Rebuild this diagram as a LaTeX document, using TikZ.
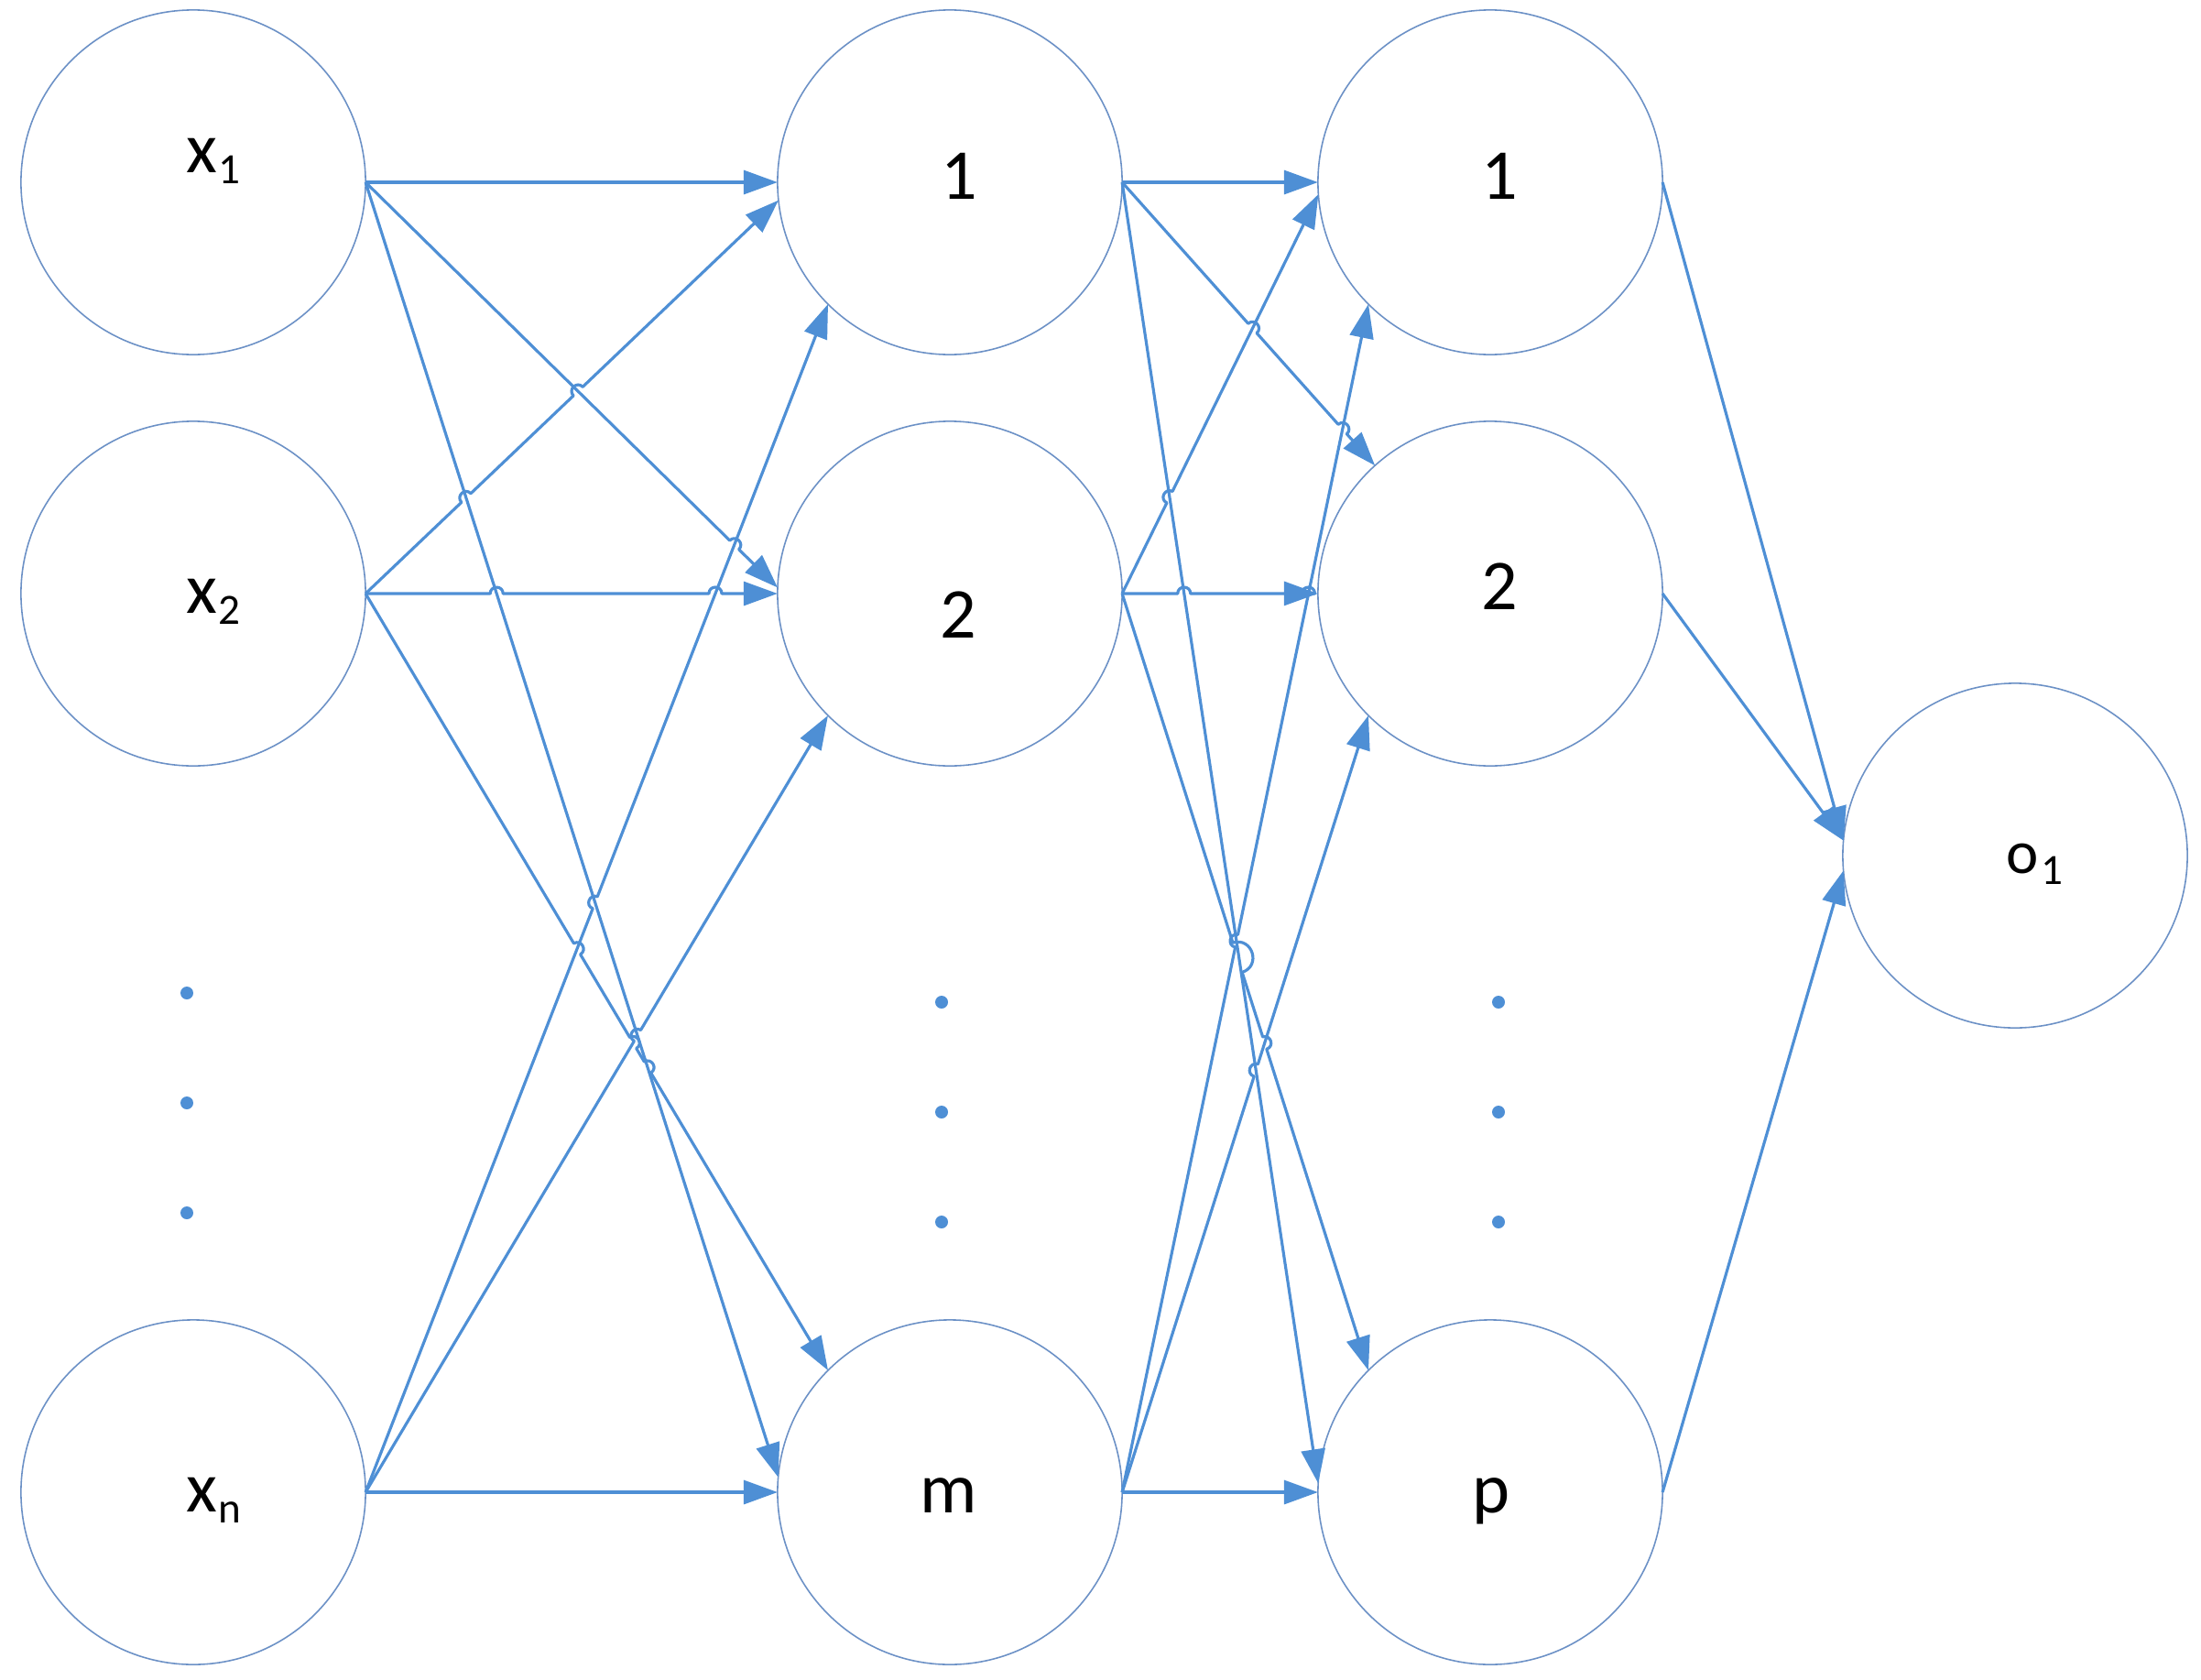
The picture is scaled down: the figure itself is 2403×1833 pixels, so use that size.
\documentclass[tikz,border=0pt]{standalone}
\usepackage{fontspec}
\setmainfont{Carlito}
\usetikzlibrary{arrows.meta,calc}
\definecolor{lineblue}{RGB}{78,143,213}
\definecolor{ringblue}{RGB}{108,145,198}
\tikzset{
  neuron/.style={circle, draw=ringblue, line width=0.45pt, fill=white, minimum size=3.76cm, inner sep=0pt, outer sep=0pt},
  conn/.style={draw=lineblue, line width=0.9pt, line join=round, -{Triangle[length=0.37cm,width=0.26cm]}},
  hopb/.style={bend left=90, looseness=1.7},
  lbl/.style={inner sep=0pt, outer sep=0pt, font=\fontsize{22.2}{24}\selectfont},
  dotmark/.style={fill=lineblue, draw=none}
}
\newcommand{\subx}[2]{{\fontsize{22.2}{24}\selectfont #1}\kern0.4pt\raisebox{-0.12cm}{\fontsize{13.4}{14}\selectfont #2}}
\def\hr{0.07cm}
\begin{document}
\begin{tikzpicture}[x=0.01cm, y=-0.01cm]
\path[use as bounding box] (0,0) rectangle (2403,1833);
% neurons
\node[neuron] (x1) at (211,199) {};
\node[neuron] (x2) at (211,648) {};
\node[neuron] (xn) at (211,1629) {};
\node[neuron] (h1) at (1037,199) {};
\node[neuron] (h2) at (1037,648) {};
\node[neuron] (hm) at (1037,1629) {};
\node[neuron] (s1) at (1627,199) {};
\node[neuron] (s2) at (1627,648) {};
\node[neuron] (sp) at (1627,1629) {};
\node[neuron] (o1) at (2200,934) {};
% labels
\node[lbl, anchor=base west] (tx1) at (203,188) {\subx{x}{1}};
\node[lbl, anchor=base west] (tx2) at (203,669) {\subx{x}{2}};
\node[lbl, anchor=base west] (txn) at (203,1650) {\subx{x}{n}};
\node[lbl, anchor=base] (th1) at (1047,217) {1};
\node[lbl, anchor=base] (th2) at (1046,696) {2};
\node[lbl, anchor=base] (thm) at (1036,1651) {m};
\node[lbl, anchor=base] (ts1) at (1637,217) {1};
\node[lbl, anchor=base] (ts2) at (1637,665) {2};
\node[lbl, anchor=base] (tsp) at (1628,1651) {p};
\node[inner sep=0pt, anchor=base west] (to1) at (2190,953) {{\fontsize{19}{20}\selectfont o}\kern0.6pt\raisebox{-0.12cm}{\fontsize{13.4}{14}\selectfont 1}};
% dots
\foreach \yy in {1084,1204,1324} { \fill[dotmark] (204,\yy) circle (7); }
\foreach \yy in {1094,1214,1334} { \fill[dotmark] (1028,\yy) circle (7); \fill[dotmark] (1636,\yy) circle (7); }
% crossing points (line jumps)
\coordinate (c1) at (intersection of x1.east--h2.178 and x2.east--h1.186);
\coordinate (c2) at (intersection of x1.east--hm.175 and x2.east--h1.186);
\coordinate (c3) at (intersection of x1.east--hm.175 and x2.east--h2.west);
\coordinate (c4) at (intersection of x1.east--hm.175 and x2.east--hm.135);
\coordinate (c5) at (intersection of x1.east--h2.178 and xn.east--h1.225);
\coordinate (c6) at (intersection of x1.east--hm.175 and xn.east--h1.225);
\coordinate (c7) at (intersection of x1.east--hm.175 and xn.east--h2.225);
\coordinate (c8) at (intersection of x2.east--h2.west and xn.east--h1.225);
\coordinate (c9) at (intersection of x2.east--hm.135 and xn.east--h1.225);
\coordinate (c10) at (intersection of x2.east--hm.135 and xn.east--h2.225);
\coordinate (d1) at (intersection of h1.east--s2.132 and h2.east--s1.184);
\coordinate (d2) at (intersection of h1.east--sp.177 and h2.east--s1.184);
\coordinate (d3) at (intersection of h1.east--sp.177 and h2.east--s2.west);
\coordinate (d4) at (intersection of h1.east--sp.177 and h2.east--sp.135);
\coordinate (d5) at (intersection of h1.east--s2.132 and hm.east--s1.225);
\coordinate (d6) at (intersection of h1.east--sp.177 and hm.east--s1.225);
\coordinate (d7) at (intersection of h1.east--sp.177 and hm.east--s2.225);
\coordinate (d8) at (intersection of h2.east--s2.west and hm.east--s1.225);
\coordinate (d9) at (intersection of h2.east--sp.135 and hm.east--s1.225);
\coordinate (d10) at (intersection of h2.east--sp.135 and hm.east--s2.225);
% input -> hidden 1
\draw[conn] (x1.east) -- (h1.west);
\draw[conn] (x1.east) -- ($(c5)!\hr!(x1.east)$) to[hopb] ($(c5)!\hr!(h2.178)$) -- (h2.178);
\draw[conn] (x1.east) -- (hm.175);
\draw[conn] (x2.east) -- ($(c2)!\hr!(x2.east)$) to[hopb] ($(c2)!\hr!(h1.186)$)
  -- ($(c1)!\hr!(x2.east)$) to[hopb] ($(c1)!\hr!(h1.186)$) -- (h1.186);
\draw[conn] (x2.east) -- ($(c3)!\hr!(x2.east)$) to[hopb] ($(c3)!\hr!(h2.west)$)
  -- ($(c8)!\hr!(x2.east)$) to[hopb] ($(c8)!\hr!(h2.west)$) -- (h2.west);
\draw[conn] (x2.east) -- ($(c9)!\hr!(x2.east)$) to[hopb] ($(c9)!\hr!(hm.135)$)
  -- ($(c10)!\hr!(x2.east)$) to[hopb] ($(c10)!\hr!(hm.135)$)
  -- ($(c4)!\hr!(x2.east)$) to[hopb] ($(c4)!\hr!(hm.135)$) -- (hm.135);
\draw[conn] (xn.east) -- ($(c6)!\hr!(xn.east)$) to[hopb] ($(c6)!\hr!(h1.225)$) -- (h1.225);
\draw[conn] (xn.east) -- ($(c7)!\hr!(xn.east)$) to[hopb] ($(c7)!\hr!(h2.225)$) -- (h2.225);
\draw[conn] (xn.east) -- (hm.west);
% hidden 1 -> hidden 2
\draw[conn] (h1.east) -- (s1.west);
\draw[conn] (h1.east) -- ($(d1)!\hr!(h1.east)$) to[hopb] ($(d1)!\hr!(s2.132)$)
  -- ($(d5)!\hr!(h1.east)$) to[hopb] ($(d5)!\hr!(s2.132)$) -- (s2.132);
\draw[conn] (h1.east) -- (sp.177);
\draw[conn] (h2.east) -- ($(d2)!\hr!(h2.east)$) to[hopb] ($(d2)!\hr!(s1.184)$) -- (s1.184);
\draw[conn] (h2.east) -- ($(d3)!\hr!(h2.east)$) to[hopb] ($(d3)!\hr!(s2.west)$)
  -- ($(d8)!\hr!(h2.east)$) to[hopb] ($(d8)!\hr!(s2.west)$) -- (s2.west);
\draw[conn] (h2.east) -- ($(d9)!\hr!(h2.east)$) to[hopb] ($(d4)!\hr!(sp.135)$)
  -- ($(d10)!\hr!(h2.east)$) to[hopb] ($(d10)!\hr!(sp.135)$) -- (sp.135);
\draw[conn] (hm.east) -- ($(d6)!\hr!(hm.east)$) to[hopb] ($(d6)!\hr!(s1.225)$) -- (s1.225);
\draw[conn] (hm.east) -- ($(d7)!\hr!(hm.east)$) to[hopb] ($(d7)!\hr!(s2.225)$) -- (s2.225);
\draw[conn] (hm.east) -- (sp.west);
% hidden 2 -> output
\draw[conn] (s1.east) -- (o1.175);
\draw[conn] (s2.east) -- (o1.175);
\draw[conn] (sp.east) -- (o1.185);
\end{tikzpicture}
\end{document}
